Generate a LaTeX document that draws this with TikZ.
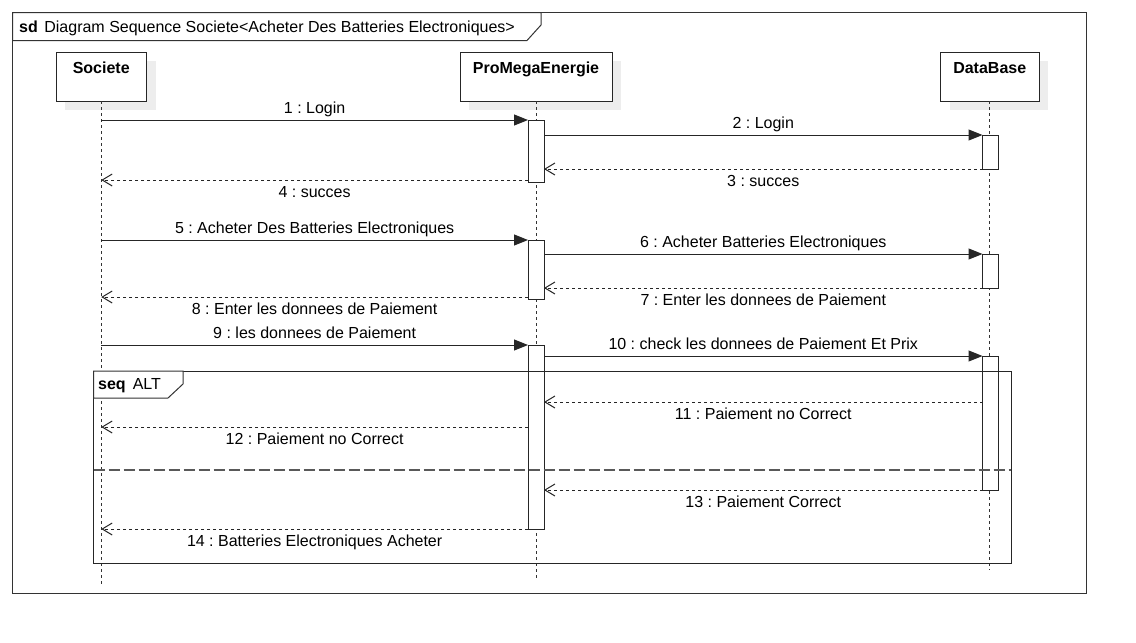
\documentclass[tikz,border=0pt]{standalone}
\usepackage{fontspec}
\setmainfont{Liberation Sans}
\usetikzlibrary{arrows.meta,calc}
\begin{document}
\frenchspacing
\fontsize{16}{19}\selectfont
\begin{tikzpicture}[x=1pt,y=-1pt,
  frameline/.style={draw=black!80, line width=1pt},
  headbox/.style={draw=black!85, fill=white, line width=1pt, minimum height=49pt, inner sep=0pt, outer sep=0pt, anchor=north west},
  headtxt/.style={font=\bfseries, anchor=base, inner sep=0pt},
  shadowbox/.style={fill=black!7, draw=none},
  lifeline/.style={draw=black!80, line width=1pt, dash pattern=on 3pt off 3pt},
  actbox/.style={draw=black!85, fill=white, line width=1pt, minimum width=16pt, inner sep=0pt, outer sep=0pt, anchor=north},
  syncmsg/.style={draw=black!85, line width=1pt, -{Triangle[length=14pt,width=11pt]}},
  retmsg/.style={draw=black!85, line width=1pt, dash pattern=on 3pt off 3pt, -{Straight Barb[length=10pt,width=12pt]}},
  lblabove/.style={anchor=base, inner sep=0pt, yshift=7pt},
  lblbelow/.style={anchor=base, inner sep=0pt, yshift=-17pt},
  sepline/.style={draw=black!65, line width=1.5pt, dash pattern=on 11pt off 4pt},
  framebox/.style={draw=black!80, line width=1pt, inner sep=0pt, outer sep=0pt, anchor=north west},
]
\useasboundingbox (0,0) rectangle (1136,643);
\fill[white] (0,0) rectangle (1136,643);

% outer frame
\node[framebox, minimum width=1073.5pt, minimum height=581pt] (frame) at (12.5,12.5) {};
\draw[frameline, fill=white] (frame.north west) -- ++(528.5,0) -- ++(0,12.5) -- ++(-14,15.5) -- ++(-514.5,0) -- cycle;
\node[anchor=base west, inner sep=0pt] (title) at (19,32) {\textbf{sd}\hspace{6.5pt}Diagram Sequence Societe<Acheter Des Batteries Electroniques>};

% heads
\node[headbox, minimum width=90.5pt] (soc) at (56,52) {};
\node[headbox, minimum width=152pt] (pme) at (460,52) {};
\node[headbox, minimum width=98.5pt] (db) at (940.5,52) {};
\foreach \h in {soc,pme,db}{
  \fill[shadowbox] ($(\h.north west)+(9,9)$) rectangle ($(\h.south east)+(9,9)$);
}
\node[headbox, minimum width=90.5pt] at (56,52) {};
\node[headbox, minimum width=152pt] at (460,52) {};
\node[headbox, minimum width=98.5pt] at (940.5,52) {};
\node[headtxt] (socT) at ([yshift=-21pt]soc.north) {Societe};
\node[headtxt] (pmeT) at ([yshift=-21pt]pme.north) {ProMegaEnergie};
\node[headtxt] (dbT) at ([yshift=-21pt]db.north) {DataBase};

% lifelines
\coordinate (socEnd) at ([yshift=-484pt]soc.south);
\coordinate (pmeEnd) at ([yshift=-477pt]pme.south);
\coordinate (dbEnd) at ([yshift=-469pt]db.south);
\draw[lifeline] (soc.south) -- (socEnd);
\draw[lifeline] (pme.south) -- (pmeEnd);
\draw[lifeline] (db.south) -- (dbEnd);

% activations
\node[actbox, minimum height=62pt] (a1) at (536,120) {};
\node[actbox, minimum height=34pt] (d1) at (990.5,135) {};
\node[actbox, minimum height=59pt] (a2) at (536,240) {};
\node[actbox, minimum height=34pt] (d2) at (990.5,254) {};
\node[actbox, minimum height=184pt] (a3) at (536,345) {};
\node[actbox, minimum height=134pt] (d3) at (990.5,356) {};

% alt frame
\node[framebox, draw=black!85, minimum width=917.5pt, minimum height=192.5pt] (alt) at (93.5,371) {};
\draw[frameline, fill=white] (alt.north west) -- ++(89.5,0) -- ++(0,13) -- ++(-15,14) -- ++(-74.5,0) -- cycle;
\node[anchor=base west, inner sep=0pt] (altT) at (98,389) {\textbf{seq}\hspace{7pt}ALT};
\coordinate (sepL) at ([yshift=-99pt]alt.north west);
\coordinate (sepR) at ([yshift=-99pt]alt.north east);
\draw[sepline] (sepL) -- (sepR);

% messages
\draw[syncmsg] (soc.south |- a1.north) -- node[lblabove]{1 : Login} (a1.north west);
\draw[syncmsg] (a1.north east |- d1.north) -- node[lblabove]{2 : Login} (d1.north west);
\draw[retmsg] (d1.south west) -- node[lblbelow]{3 : succes} (a1.east |- d1.south);
\coordinate (r4) at ([yshift=2pt]a1.south west);
\draw[retmsg] (r4) -- node[lblbelow]{4 : succes} (soc.south |- r4);

\draw[syncmsg] (soc.south |- a2.north) -- node[lblabove]{5 : Acheter Des Batteries Electroniques} (a2.north west);
\draw[syncmsg] (a2.north east |- d2.north) -- node[lblabove]{6 : Acheter Batteries Electroniques} (d2.north west);
\draw[retmsg] (d2.south west) -- node[lblbelow]{7 : Enter les donnees de Paiement} (a2.east |- d2.south);
\coordinate (r8) at ([yshift=2pt]a2.south west);
\draw[retmsg] (r8) -- node[lblbelow]{8 : Enter les donnees de Paiement} (soc.south |- r8);

\draw[syncmsg] (soc.south |- a3.north) -- node[lblabove]{9 : les donnees de Paiement} (a3.north west);
\draw[syncmsg] (a3.north east |- d3.north) -- node[lblabove]{10 : check les donnees de Paiement Et Prix} (d3.north west);
\coordinate (r11) at ([yshift=-46pt]d3.north west);
\draw[retmsg] (r11) -- node[lblbelow]{11 : Paiement no Correct} (a3.east |- r11);
\coordinate (r12) at ([yshift=-82pt]a3.north west);
\draw[retmsg] (r12) -- node[lblbelow]{12 : Paiement no Correct} (soc.south |- r12);
\draw[retmsg] (d3.south west) -- node[lblbelow]{13 : Paiement Correct} (a3.east |- d3.south);
\draw[retmsg] (a3.south west) -- node[lblbelow]{14 : Batteries Electroniques Acheter} (soc.south |- a3.south west);
\end{tikzpicture}
\end{document}
